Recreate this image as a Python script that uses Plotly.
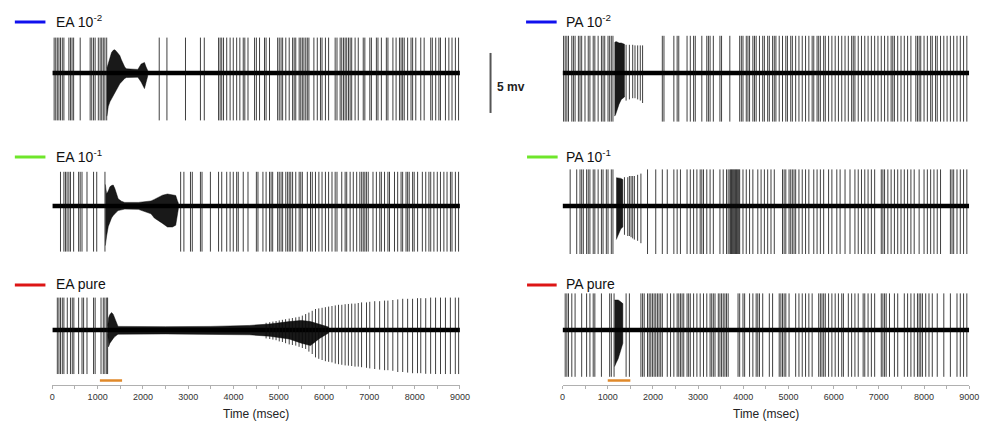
import plotly.graph_objects as go

W, H = 993, 427
T_START, T_END = 0, 9000

# ---------------- data (ms / mV) ----------------
# EA 10^-2
EA2_SPIKES = [40, 75, 110, 145, 180, 220, 255, 365, 400, 435, 470, 615, 835, 870, 910, 945, 1015, 1055,
              1090, 1125, 1160, 1200, 2360, 2530, 2940, 3270, 3355, 3670, 3705, 3740, 3780, 3850, 3925,
              3995, 4070, 4140, 4215, 4250, 4320, 4465, 4505, 4575, 4685, 4720, 4795, 4975, 5010, 5050,
              5085, 5155, 5230, 5305, 5340, 5375, 5450, 5485, 5520, 5555, 5595, 5630, 5665, 5775, 5850,
              5920, 5955, 6030, 6100, 6245, 6285, 6355, 6390, 6430, 6465, 6500, 6540, 6575, 6610, 6685,
              6755, 6865, 6900, 7010, 7045, 7155, 7190, 7265, 7375, 7410, 7520, 7590, 7665, 7700, 7735,
              7770, 7845, 7920, 7955, 8025, 8135, 8210, 8355, 8390, 8465, 8535, 8570, 8680, 8755, 8825,
              8900, 8970]
EA2_AMP = (2.95, -3.95)
EA2_BURST_T = [1205, 1235, 1271, 1307, 1344, 1380, 1416, 1453, 1489, 1525, 1562, 1598, 1634, 1750, 1888,
               1961, 2000, 2034, 2070, 2106]
EA2_BURST_TOP = [0.4, 0.83, 1.39, 1.7, 1.89, 1.94, 1.8, 1.6, 1.45, 1.1, 0.75, 0.5, 0.35, 0.3, 0.3,
                 0.75, 0.85, 0.88, 0.5, 0.2]
EA2_BURST_BOT = [-3.6, -2.8, -2.4, -2.2, -1.95, -1.7, -1.4, -1.15, -0.9, -0.75, -0.6, -0.45, -0.38,
                 -0.35, -0.35, -0.75, -1.05, -1.3, -0.9, -0.25]

# EA 10^-1
EA1_SPIKES = [180, 255, 290, 325, 365, 400, 470, 580, 615, 655, 765, 910, 980, 1162, 2833, 2905, 3050,
              3090, 3270, 3305, 3490, 3670, 3740, 3850, 3925, 3995, 4070, 4105, 4215, 4320, 4505, 4540,
              4650, 4720, 4795, 4830, 4865, 4975, 5010, 5050, 5085, 5155, 5195, 5230, 5265, 5305, 5375,
              5450, 5485, 5520, 5630, 5700, 5740, 5810, 5885, 5955, 6030, 6100, 6175, 6245, 6285, 6390,
              6465, 6500, 6575, 6645, 6720, 6790, 6830, 6865, 6900, 6935, 6975, 7080, 7155, 7230, 7265,
              7335, 7410, 7445, 7555, 7625, 7700, 7735, 7810, 7845, 7880, 7955, 7990, 8065, 8170, 8245,
              8315, 8355, 8425, 8500, 8570, 8645, 8715, 8790, 8825, 8900, 8970]
EA1_AMP = (2.85, -3.8)
EA1_BURST_T = [1170, 1198, 1235, 1271, 1307, 1344, 1380, 1416, 1453, 1525, 1598, 1900, 2179, 2252, 2325,
               2433, 2542, 2651, 2724, 2760, 2782]
EA1_BURST_TOP = [1.8, 1.0, 1.25, 1.6, 1.7, 1.75, 1.45, 1.0, 0.6, 0.4, 0.3, 0.3, 0.42, 0.55, 0.7,
                 0.9, 1.0, 0.95, 0.88, 0.45, 0.25]
EA1_BURST_BOT = [-3.3, -2.5, -1.7, -1.3, -1.0, -0.8, -0.62, -0.5, -0.38, -0.32, -0.26, -0.28, -0.65,
                 -1.0, -1.2, -1.45, -1.75, -1.75, -1.6, -0.9, -0.25]

# EA pure
EAP_SPIKES = [110, 145, 180, 220, 255, 330, 400, 440, 475, 580, 655, 690, 765, 910, 945, 1075, 1125,
              1160, 1200, 1220]
EAP_AMP = (2.7, -3.67)
EAP_LATE_T = [4720, 4800, 4870, 4940, 5010, 5080, 5150, 5230, 5300, 5375, 5448, 5520, 5593, 5665, 5738,
              5811, 5883, 5956, 6029, 6101, 6174, 6247, 6319, 6392, 6465, 6537, 6610, 6683, 6755, 6828,
              6937, 7009, 7118, 7227, 7336, 7409, 7518, 7627, 7736, 7845, 7954, 8063, 8135, 8244, 8353,
              8462, 8571, 8680, 8789, 8898, 8971]
EAP_LATE_UP = [0.6, 0.65, 0.7, 0.75, 0.8, 0.85, 0.9, 0.95, 1.0, 1.05, 1.1, 1.2, 1.33, 1.45, 1.6, 1.75,
               1.8, 1.85, 1.9, 1.95, 2.0, 2.05, 2.1, 2.1, 2.15, 2.17, 2.2, 2.2, 2.25, 2.3, 2.3, 2.35, 2.4,
               2.4, 2.45, 2.45, 2.5, 2.55, 2.6, 2.6, 2.6, 2.65, 2.65, 2.65, 2.7, 2.7, 2.7, 2.7, 2.7, 2.7,
               2.7]
EAP_LATE_DOWN = [-0.7, -0.75, -0.8, -0.85, -0.95, -1.0, -1.1, -1.2, -1.25, -1.3, -1.4, -1.5, -1.58,
                 -1.8, -2.0, -2.28, -2.4, -2.5, -2.6, -2.65, -2.7, -2.8, -2.85, -2.9, -2.95, -2.97, -3.0,
                 -3.05, -3.05, -3.1, -3.15, -3.2, -3.25, -3.3, -3.35, -3.35, -3.4, -3.5, -3.5, -3.55,
                 -3.6, -3.6, -3.6, -3.65, -3.65, -3.67, -3.67, -3.67, -3.67, -3.67, -3.67]
EAP_BURST_T = [1225, 1240, 1270, 1310, 1345, 1380, 1420, 1450, 2500, 3500, 4350, 4800, 5230, 5500, 5700,
               5900, 6100]
EAP_BURST_TOP = [0.35, 1.0, 1.3, 1.45, 1.3, 0.9, 0.45, 0.3, 0.28, 0.3, 0.38, 0.5, 0.7, 0.8, 0.7,
                 0.45, 0.25]
EAP_BURST_BOT = [-0.35, -1.4, -1.1, -0.85, -0.7, -0.55, -0.42, -0.35, -0.33, -0.35, -0.4, -0.52,
                 -0.75, -1.1, -1.3, -0.7, -0.25]

# PA 10^-2
PA2_SPIKES = [22, 58, 95, 131, 204, 240, 277, 350, 386, 423, 496, 568, 605, 678, 714, 787, 860, 896, 933,
              1006, 1042, 1079, 1115, 2208, 2244, 2463, 2536, 2572, 2755, 2827, 2900, 2937, 3082, 3192,
              3228, 3265, 3337, 3483, 3519, 3702, 3920, 3957, 3993, 4066, 4103, 4139, 4212, 4248, 4285,
              4358, 4430, 4467, 4540, 4576, 4649, 4686, 4722, 4795, 4868, 4941, 4977, 5050, 5086, 5159,
              5232, 5305, 5378, 5451, 5524, 5560, 5633, 5669, 5706, 5779, 5815, 5888, 5961, 6034, 6106,
              6179, 6252, 6325, 6398, 6434, 6471, 6544, 6616, 6689, 6762, 6835, 6908, 6981, 7054, 7127,
              7200, 7272, 7309, 7345, 7418, 7491, 7564, 7637, 7710, 7819, 7855, 7892, 7928, 8001, 8074,
              8147, 8183, 8256, 8293, 8366, 8438, 8511, 8584, 8657, 8730, 8803, 8876, 8948]
PA2_AMP = (3.1, -4.05)
PA2_POST_T = [1406, 1479, 1552, 1603, 1662, 1720, 1771]
PA2_POST_UP = [2.35, 2.35, 2.35, 2.3, 2.3, 2.3, 2.3]
PA2_POST_DOWN = [-2.3, -2.2, -2.1, -2.1, -2.2, -2.3, -2.5]
PA2_BURST_T = [1150, 1170, 1200, 1250, 1300, 1340, 1370]
PA2_BURST_TOP = [2.5, 2.6, 2.6, 2.5, 2.5, 2.4, 2.4]
PA2_BURST_BOT = [-3.6, -3.5, -3.3, -2.6, -2.2, -2.1, -2.0]

# PA 10^-1
PA1_SPIKES = [168, 313, 386, 423, 459, 532, 568, 605, 678, 714, 787, 860, 896, 969, 1006, 1079, 1115,
              1880, 2062, 2208, 2317, 2463, 2536, 2609, 2755, 2827, 2900, 2973, 3046, 3082, 3119, 3192,
              3265, 3337, 3483, 3556, 3629, 3665, 3702, 3720, 3738, 3757, 3775, 3793, 3811, 3830, 3848,
              3866, 3884, 3902, 3920, 3993, 4066, 4139, 4212, 4321, 4394, 4467, 4540, 4613, 4686, 4868,
              4904, 4941, 5013, 5050, 5086, 5123, 5159, 5232, 5305, 5378, 5451, 5560, 5633, 5706, 5779,
              5888, 5961, 6070, 6143, 6252, 6362, 6471, 6544, 6616, 6689, 6762, 6835, 6908, 7054, 7090,
              7127, 7200, 7272, 7345, 7418, 7491, 7564, 7637, 7710, 7783, 7892, 8001, 8074, 8147, 8220,
              8293, 8366, 8584, 8620, 8657, 8730, 8803, 8876, 8948]
PA1_AMP = (3.05, -4.0)
PA1_POST_T = [1370, 1443, 1479, 1516, 1552, 1589, 1661, 1734]
PA1_POST_UP = [2.4, 2.4, 2.5, 2.5, 2.5, 2.5, 2.6, 2.7]
PA1_POST_DOWN = [-2.4, -2.5, -2.5, -2.6, -2.7, -2.8, -2.9, -3.1]
PA1_BURST_T = [1188, 1210, 1250, 1290, 1334]
PA1_BURST_TOP = [2.36, 2.36, 2.36, 2.3, 2.2]
PA1_BURST_BOT = [-2.8, -2.6, -2.3, -1.9, -1.75]

# PA pure
PAP_SPIKES = [58, 95, 131, 204, 277, 423, 532, 605, 678, 714, 860, 1042, 1079, 1140, 1406, 1479, 1734,
              1771, 1807, 1880, 1917, 1953, 1989, 2026, 2062, 2099, 2135, 2172, 2208, 2317, 2390, 2463,
              2536, 2572, 2609, 2645, 2682, 2755, 2791, 2827, 2900, 2973, 3046, 3119, 3192, 3265, 3301,
              3337, 3374, 3447, 3483, 3519, 3556, 3593, 3629, 3665, 3884, 3920, 3993, 4030, 4139, 4212,
              4285, 4321, 4358, 4430, 4576, 4649, 4795, 4832, 4868, 4904, 4941, 5013, 5159, 5232, 5305,
              5378, 5451, 5524, 5669, 5706, 5742, 5779, 5815, 5888, 5961, 6034, 6106, 6179, 6216, 6325,
              6398, 6471, 6544, 6653, 6689, 6762, 6835, 6908, 7054, 7090, 7127, 7163, 7236, 7345, 7418,
              7564, 7637, 7710, 7783, 7855, 7892, 7928, 7965, 8038, 8110, 8183, 8293, 8438, 8584, 8730,
              8803, 8876, 8948]
PAP_AMP = (3.05, -3.9)
PAP_BURST_T = [1151, 1190, 1230, 1270, 1300, 1334]
PAP_BURST_TOP = [2.5, 2.5, 2.5, 2.4, 2.3, 2.2]
PAP_BURST_BOT = [-3.05, -2.7, -2.4, -2.0, -1.6, -1.1]

STIM_LEFT = [1050, 1540]
STIM_RIGHT = [1000, 1500]
SCALE_BAR_MV = [-3.33, 1.67]
X_TICKS = [0, 1000, 2000, 3000, 4000, 5000, 6000, 7000, 8000, 9000]

# ---------------- layout helpers ----------------
def px_x(p):
    return p / W

def px_y(p):
    return 1 - p / H

LEFT_DOM = [px_x(50), px_x(463)]
RIGHT_DOM = [px_x(567), px_x(979)]
MV_PER_HALF = 5.0  # y-range [-5, 5] mV, 12 px per mV
ROW_BASE = [73, 206, 330]

def row_dom(base):
    return [px_y(base + 60), px_y(base - 60)]

fig = go.Figure()

panels = [(1, 0, "L"), (2, 0, "R"), (3, 1, "L"), (4, 1, "R"), (5, 2, "L"), (6, 2, "R")]

SPIKE_COLOR = "rgba(10,10,10,0.78)"


def ax_names(i):
    return ("x" if i == 1 else f"x{i}"), ("y" if i == 1 else f"y{i}")


def add_baseline(i):
    xa, ya = ax_names(i)
    fig.add_trace(go.Scatter(x=[T_START, T_END], y=[0, 0], mode="lines",
                             line=dict(color="black", width=4.5), xaxis=xa, yaxis=ya,
                             hoverinfo="skip", showlegend=False))


def add_spikes(i, times, ups, downs):
    xa, ya = ax_names(i)
    xs, ys = [], []
    for t, u, d in zip(times, ups, downs):
        xs += [t, t, None]
        ys += [d, u, None]
    fig.add_trace(go.Scatter(x=xs, y=ys, mode="lines", line=dict(color=SPIKE_COLOR, width=1),
                             xaxis=xa, yaxis=ya, hoverinfo="skip", showlegend=False))


def add_burst(i, t, top, bot):
    xa, ya = ax_names(i)
    xs = list(t) + list(reversed(t))
    ys = list(top) + list(reversed(bot))
    fig.add_trace(go.Scatter(x=xs, y=ys, mode="lines", fill="toself", fillcolor="rgba(0,0,0,0.9)",
                             line=dict(color="rgba(0,0,0,0.9)", width=0.5), xaxis=xa, yaxis=ya,
                             hoverinfo="skip", showlegend=False))


def uni(times, amp):
    return times, [amp[0]] * len(times), [amp[1]] * len(times)


for i in range(1, 7):
    add_baseline(i)

add_spikes(1, *uni(EA2_SPIKES, EA2_AMP))
add_burst(1, EA2_BURST_T, EA2_BURST_TOP, EA2_BURST_BOT)

add_spikes(3, *uni(EA1_SPIKES, EA1_AMP))
add_burst(3, EA1_BURST_T, EA1_BURST_TOP, EA1_BURST_BOT)

add_spikes(5, *uni(EAP_SPIKES, EAP_AMP))
add_burst(5, EAP_BURST_T, EAP_BURST_TOP, EAP_BURST_BOT)
add_spikes(5, EAP_LATE_T, EAP_LATE_UP, EAP_LATE_DOWN)

add_spikes(2, *uni(PA2_SPIKES, PA2_AMP))
add_burst(2, PA2_BURST_T, PA2_BURST_TOP, PA2_BURST_BOT)
add_spikes(2, PA2_POST_T, PA2_POST_UP, PA2_POST_DOWN)

add_spikes(4, *uni(PA1_SPIKES, PA1_AMP))
add_burst(4, PA1_BURST_T, PA1_BURST_TOP, PA1_BURST_BOT)
add_spikes(4, PA1_POST_T, PA1_POST_UP, PA1_POST_DOWN)

add_spikes(6, *uni(PAP_SPIKES, PAP_AMP))
add_burst(6, PAP_BURST_T, PAP_BURST_TOP, PAP_BURST_BOT)

# stimulation bars (orange)
for i, st in ((5, STIM_LEFT), (6, STIM_RIGHT)):
    xa, ya = ax_names(i)
    fig.add_trace(go.Scatter(x=st, y=[-4.2, -4.2], mode="lines",
                             line=dict(color="#e0892a", width=2.5), xaxis=xa, yaxis=ya,
                             hoverinfo="skip", showlegend=False))

layout = dict(width=W, height=H, autosize=False, margin=dict(l=0, r=0, t=0, b=0),
              paper_bgcolor="white", plot_bgcolor="rgba(0,0,0,0)",
              font=dict(family="Arial, Liberation Sans, sans-serif", color="#111"))

axis_pos = 1 - 385 / H
for i, row, side in panels:
    dom = LEFT_DOM if side == "L" else RIGHT_DOM
    xkey = "xaxis" if i == 1 else f"xaxis{i}"
    ykey = "yaxis" if i == 1 else f"yaxis{i}"
    xa, ya = ax_names(i)
    if row < 2:
        layout[xkey] = dict(domain=dom, range=[T_START, T_END], visible=False, anchor=ya)
    else:
        layout[xkey] = dict(domain=dom, range=[T_START, T_END], anchor="free", position=axis_pos,
                            showline=True, linecolor="#b0b0b0", linewidth=1, showgrid=False,
                            zeroline=False, ticks="outside", ticklen=3, tickcolor="#b0b0b0",
                            tickvals=X_TICKS, ticktext=[str(v) for v in X_TICKS],
                            tickfont=dict(size=9, color="#333"),
                            minor=dict(dtick=500, tick0=0, ticks="outside", ticklen=3,
                                       tickcolor="#b0b0b0", showgrid=False))
    layout[ykey] = dict(domain=row_dom(ROW_BASE[row]), range=[-MV_PER_HALF, MV_PER_HALF],
                        visible=False, anchor=xa)

fig.update_layout(**layout)

# labels with coloured markers
labels = [
    ("EA 10<sup>-2</sup>", 12, 43, 52, 22, "#1010ee"),
    ("EA 10<sup>-1</sup>", 12, 43, 52, 157, "#6ee62a"),
    ("EA pure", 12, 43, 52, 285, "#dd1515"),
    ("PA 10<sup>-2</sup>", 530, 561, 568, 22, "#1010ee"),
    ("PA 10<sup>-1</sup>", 531, 562, 568, 157, "#6ee62a"),
    ("PA pure", 531, 561, 568, 285, "#dd1515"),
]
for text, lx0, lx1, tx, ty, col in labels:
    fig.add_shape(type="line", xref="paper", yref="paper", x0=px_x(lx0), x1=px_x(lx1),
                  y0=px_y(ty), y1=px_y(ty), line=dict(color=col, width=3))
    fig.add_annotation(text=text, xref="paper", yref="paper", x=px_x(tx), y=px_y(ty - 1),
                       xanchor="left", yanchor="middle", showarrow=False,
                       font=dict(size=14, color="#111"))

# scale bar (5 mV) attached to row-1 voltage axis
fig.add_shape(type="line", xref="paper", yref="y", x0=px_x(494), x1=px_x(494),
              y0=SCALE_BAR_MV[0], y1=SCALE_BAR_MV[1], line=dict(color="#555", width=2))
fig.add_annotation(text="<b>5 mv</b>", xref="paper", yref="paper", x=px_x(499), y=px_y(87),
                   xanchor="left", yanchor="middle", showarrow=False,
                   font=dict(size=12, color="#222"))

for cx in (256, 773):
    fig.add_annotation(text="Time (msec)", xref="paper", yref="paper", x=px_x(cx), y=px_y(414),
                       xanchor="center", yanchor="middle", showarrow=False,
                       font=dict(size=12, color="#222"))

fig.write_html("out.html")
